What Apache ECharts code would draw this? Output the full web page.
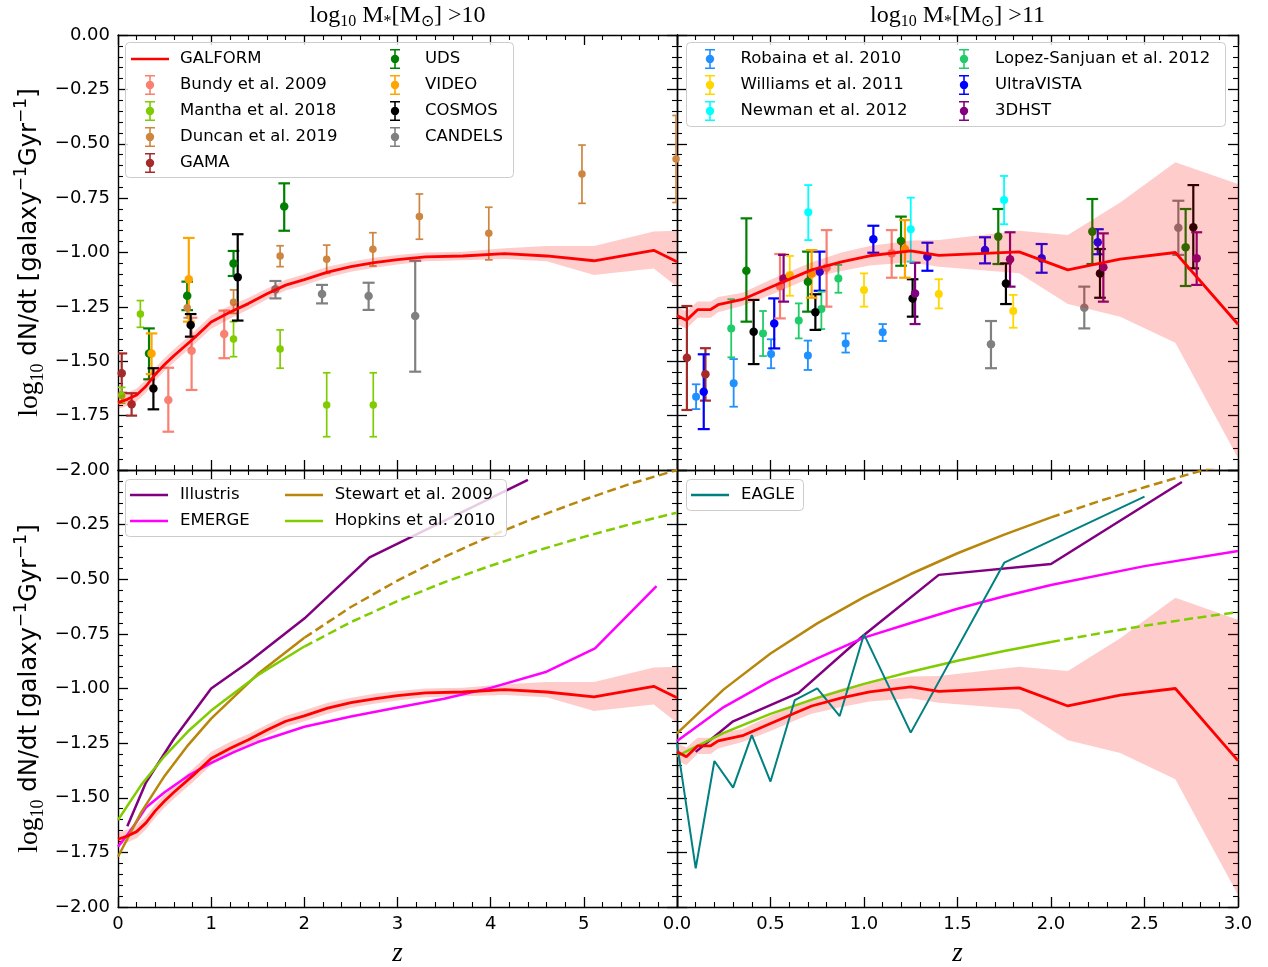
<!DOCTYPE html>
<html><head><meta charset="utf-8">
<script src="https://cdn.jsdelivr.net/npm/echarts@6/dist/echarts.min.js"></script>
<style>html,body{margin:0;padding:0;background:#fff}#c{width:1268px;height:967px}</style>
</head><body><div id="c"></div>
<script>
// ---------------- DATA ----------------
// GALFORM, log10 M* > 10
const galformZ10  = [0,0.1,0.2,0.3,0.4,0.5,0.6,0.8,1.0,1.2,1.4,1.6,1.8,2.0,2.25,2.5,2.75,3.0,3.3,3.7,4.15,4.6,5.11,5.75,6.0];
const galformY10  = [-1.69,-1.675,-1.655,-1.615,-1.56,-1.515,-1.475,-1.40,-1.32,-1.275,-1.235,-1.19,-1.15,-1.125,-1.09,-1.065,-1.047,-1.033,-1.02,-1.016,-1.005,-1.016,-1.038,-0.99,-1.042];
const galformLo10 = [-1.72,-1.705,-1.685,-1.645,-1.59,-1.545,-1.505,-1.43,-1.35,-1.305,-1.262,-1.215,-1.175,-1.15,-1.115,-1.088,-1.07,-1.055,-1.04,-1.036,-1.03,-1.04,-1.103,-1.073,-1.157];
const galformHi10 = [-1.66,-1.645,-1.625,-1.585,-1.53,-1.485,-1.445,-1.37,-1.29,-1.245,-1.208,-1.165,-1.125,-1.10,-1.065,-1.042,-1.024,-1.011,-1.0,-0.996,-0.98,-0.97,-0.97,-0.904,-0.90];
// GALFORM, log10 M* > 11
const galformZ11  = [0,0.05,0.11,0.18,0.22,0.35,0.5,0.65,0.72,0.88,1.03,1.25,1.40,1.83,2.09,2.37,2.665,3.0];
const galformY11  = [-1.29,-1.312,-1.263,-1.262,-1.24,-1.216,-1.16,-1.105,-1.08,-1.043,-1.015,-0.993,-1.013,-0.997,-1.08,-1.03,-1.0,-1.33];
const galformLo11 = [-1.33,-1.35,-1.30,-1.30,-1.275,-1.245,-1.195,-1.14,-1.115,-1.085,-1.06,-1.045,-1.065,-1.095,-1.237,-1.295,-1.415,-1.945];
const galformHi11 = [-1.25,-1.27,-1.225,-1.225,-1.205,-1.185,-1.125,-1.07,-1.045,-1.0,-0.97,-0.945,-0.943,-0.90,-0.92,-0.77,-0.585,-0.685];

// Observations [z, value, lower, upper], M* > 10
const bundy10   = [[0.54,-1.678,-1.824,-1.530],[0.79,-1.452,-1.632,-1.30],[1.14,-1.375,-1.486,-1.267]];
const mantha10  = [[0.04,-1.658,-1.693,-1.620],[0.24,-1.283,-1.344,-1.221],[1.24,-1.398,-1.479,-1.318],[1.74,-1.444,-1.532,-1.356],[2.24,-1.701,-1.847,-1.553],[2.74,-1.701,-1.847,-1.553]];
const duncan10  = [[0.743,-1.254,-1.30,-1.205],[1.24,-1.229,-1.28,-1.172],[1.74,-1.016,-1.065,-0.969],[2.24,-1.031,-1.096,-0.966],[2.736,-0.985,-1.062,-0.909],[3.235,-0.835,-0.939,-0.731],[3.98,-0.912,-1.034,-0.792],[4.98,-0.639,-0.774,-0.506],[5.99,-0.57,-0.77,-0.37]];
const gama10    = [[0.04,-1.555,-1.645,-1.464],[0.146,-1.698,-1.75,-1.647]];
const uds10     = [[0.333,-1.464,-1.583,-1.349],[0.743,-1.199,-1.265,-1.134],[1.24,-1.05,-1.108,-0.993],[1.784,-0.789,-0.90,-0.682]];
const video10   = [[0.36,-1.464,-1.559,-1.372],[0.76,-1.123,-1.318,-0.933]];
const cosmos10  = [[0.38,-1.625,-1.721,-1.532],[0.78,-1.333,-1.387,-1.283],[1.285,-1.114,-1.313,-0.916]];
const candels10 = [[1.69,-1.169,-1.211,-1.131],[2.19,-1.191,-1.234,-1.149],[2.69,-1.20,-1.264,-1.139],[3.19,-1.292,-1.548,-1.038]];

// Observations [z, value, lower, upper], M* > 11
const robaina11    = [[0.102,-1.663,-1.72,-1.606],[0.303,-1.601,-1.709,-1.49],[0.503,-1.467,-1.532,-1.399],[0.70,-1.474,-1.54,-1.405],[0.902,-1.418,-1.46,-1.372],[1.10,-1.367,-1.407,-1.329]];
const williams11   = [[0.603,-1.103,-1.199,-1.016],[1.0,-1.172,-1.249,-1.096],[1.40,-1.191,-1.257,-1.123],[1.798,-1.269,-1.346,-1.195]];
const newman11     = [[0.702,-0.815,-0.943,-0.69],[1.25,-0.893,-1.042,-0.748],[1.749,-0.759,-0.87,-0.648]];
const lopez11      = [[0.29,-1.349,-1.482,-1.215],[0.46,-1.372,-1.476,-1.269],[0.651,-1.313,-1.395,-1.234],[0.772,-1.26,-1.352,-1.18],[0.863,-1.119,-1.185,-1.057]];
const ultravista11 = [[0.143,-1.64,-1.812,-1.468],[0.52,-1.326,-1.441,-1.211],[0.763,-1.088,-1.176,-0.996],[1.05,-0.939,-1.001,-0.877],[1.339,-1.019,-1.084,-0.955],[1.647,-0.989,-1.05,-0.93],[1.95,-1.027,-1.093,-0.961],[2.25,-0.953,-1.008,-0.893]];
const dhst11       = [[0.57,-1.119,-1.226,-1.011],[1.273,-1.188,-1.329,-1.047],[1.781,-1.031,-1.157,-0.907],[2.28,-1.068,-1.226,-0.912],[2.779,-1.027,-1.149,-0.907]];
const gama11       = [[0.053,-1.484,-1.724,-1.246],[0.152,-1.56,-1.681,-1.44]];
const bundy11      = [[0.551,-1.155,-1.303,-1.007],[0.80,-1.07,-1.249,-0.897],[1.148,-1.004,-1.116,-0.897]];
const uds11        = [[0.371,-1.084,-1.318,-0.843],[0.70,-1.134,-1.272,-0.996],[1.198,-0.947,-1.061,-0.835],[1.718,-0.927,-1.053,-0.80],[2.221,-0.904,-1.053,-0.754],[2.72,-0.976,-1.154,-0.80]];
const video11      = [[0.72,-1.099,-1.208,-0.989],[1.219,-0.984,-1.116,-0.851]];
const cosmos11     = [[0.41,-1.364,-1.513,-1.218],[0.74,-1.275,-1.356,-1.192],[1.26,-1.211,-1.295,-1.123],[1.759,-1.142,-1.237,-1.05],[2.262,-1.096,-1.208,-0.984],[2.761,-0.884,-1.073,-0.69]];
const candels11    = [[1.679,-1.422,-1.532,-1.315],[2.178,-1.254,-1.349,-1.157],[2.681,-0.886,-1.011,-0.762]];

// Models, M* > 10
const illustrisZ10 = [0.1,0.3,0.6,1.0,1.4,2.0,2.7,4.4];
const illustrisY10 = [-1.63,-1.43,-1.23,-1.0,-0.88,-0.68,-0.40,-0.045];
const emergeZ10 = [0,0.1,0.2,0.3,0.5,0.75,1.0,1.25,1.5,2.0,2.5,3.0,3.5,4.0,4.6,5.12,5.78];
const emergeY10 = [-1.724,-1.67,-1.61,-1.545,-1.475,-1.40,-1.34,-1.29,-1.245,-1.175,-1.128,-1.087,-1.047,-0.997,-0.923,-0.816,-0.531];
const stewartZ10 = [0,0.25,0.5,0.75,1.0,1.5,2.0];
const stewartY10 = [-1.77,-1.566,-1.40,-1.26,-1.138,-0.934,-0.768];
const stewartExtZ10 = [2.0,2.5,3.0,3.5,4.0,4.5,5.0,5.5,6.0];
const stewartExtY10 = [-0.768,-0.627,-0.506,-0.398,-0.302,-0.215,-0.136,-0.063,0.0];
const hopkinsZ10 = [0,0.25,0.5,0.75,1.0,1.5,2.0];
const hopkinsY10 = [-1.602,-1.441,-1.309,-1.197,-1.101,-0.939,-0.808];
const hopkinsExtZ10 = [2.0,2.5,3.0,3.5,4.0,4.5,5.0,5.5,6.0];
const hopkinsExtY10 = [-0.808,-0.696,-0.60,-0.514,-0.438,-0.369,-0.306,-0.248,-0.195];

// Models, M* > 11
const illustrisZ11 = [0.1,0.3,0.65,1.0,1.4,2.0,2.7];
const illustrisY11 = [-1.29,-1.15,-1.02,-0.755,-0.48,-0.43,-0.055];
const emergeZ11 = [0,0.25,0.5,0.75,1.0,1.25,1.5,1.75,2.0,2.5,3.0];
const emergeY11 = [-1.24,-1.085,-0.965,-0.862,-0.767,-0.70,-0.635,-0.578,-0.526,-0.44,-0.371];
const stewartZ11 = [0,0.25,0.5,0.75,1.0,1.25,1.5,1.75,2.0];
const stewartY11 = [-1.205,-1.004,-0.84,-0.702,-0.582,-0.476,-0.381,-0.296,-0.217];
const stewartExtZ11 = [2.0,2.25,2.5,2.75,3.0];
const stewartExtY11 = [-0.217,-0.145,-0.079,-0.016,0.041];
const hopkinsZ11 = [0,0.25,0.5,0.75,1.0,1.25,1.5,1.75,2.0];
const hopkinsY11 = [-1.309,-1.203,-1.116,-1.043,-0.979,-0.923,-0.873,-0.828,-0.787];
const hopkinsExtZ11 = [2.0,2.25,2.5,2.75,3.0];
const hopkinsExtY11 = [-0.787,-0.749,-0.713,-0.680,-0.650];
const eagleZ11 = [0,0.1,0.2,0.3,0.4,0.5,0.63,0.75,0.87,1.0,1.25,1.75,2.5];
const eagleY11 = [-1.25,-1.823,-1.332,-1.454,-1.213,-1.426,-1.053,-0.999,-1.126,-0.752,-1.202,-0.424,-0.122];

// Axis ranges / ticks
const yRange = [-2, 0], yStep = 0.25;
const zRangeLeft = [0, 6], zStepLeft = 1;
const zRangeRight = [0, 3], zStepRight = 0.5;

// ---------------- STYLE ----------------
const FONT = 'DejaVu Sans';
const SERIF = 'Liberation Serif';
const C = {
  galform:'#ff0000', band:'rgba(255,0,0,0.2)',
  bundy:'#fa8072', mantha:'#80cc00', duncan:'#cd853f', gama:'#a52a2a',
  uds:'#008000', video:'#ffa500', cosmos:'#000000', candels:'#808080',
  robaina:'#1e90ff', williams:'#ffd700', newman:'#00ffff', lopez:'#20cc6a',
  ultravista:'#0000ff', dhst:'#800080',
  illustris:'#800080', emerge:'#ff00ff', stewart:'#b8860b', hopkins:'#80cc00', eagle:'#008080'
};
const EB = { // cap half-width, line width, marker size
  bundy:[5.8,2.2,8.5], mantha:[3.8,1.7,7.5], duncan:[3.8,1.7,7.5], gama:[5.5,2.2,8.5],
  uds:[5.8,2.2,8.5], video:[5.8,2.2,8.5], cosmos:[5.8,2.2,8.5], candels:[6,2.2,8.5],
  robaina:[4.2,1.8,8], williams:[4.2,1.8,8], newman:[4,1.8,8], lopez:[3.8,1.8,8],
  ultravista:[6,2.2,8.5], dhst:[5.5,2.2,8.5]
};
const NAMES = {
  galform:'GALFORM', bundy:'Bundy et al. 2009', mantha:'Mantha et al. 2018', duncan:'Duncan et al. 2019',
  gama:'GAMA', uds:'UDS', video:'VIDEO', cosmos:'COSMOS', candels:'CANDELS',
  robaina:'Robaina et al. 2010', williams:'Williams et al. 2011', newman:'Newman et al. 2012',
  lopez:'Lopez-Sanjuan et al. 2012', ultravista:'UltraVISTA', dhst:'3DHST',
  illustris:'Illustris', emerge:'EMERGE', stewart:'Stewart et al. 2009', hopkins:'Hopkins et al. 2010', eagle:'EAGLE'
};

// ---------------- HELPERS ----------------
const zip = (a, b) => a.map((v, i) => [v, b[i]]);

function errSeries(key, data, gi) {
  const [cap, lw, ms] = EB[key];
  const color = C[key];
  return [{
    type:'custom', name:NAMES[key], xAxisIndex:gi, yAxisIndex:gi, data, clip:true, z:2, silent:true,
    itemStyle:{color}, encode:{x:0, y:[1,2,3]},
    renderItem:(params, api) => {
      const x = api.value(0);
      const a = api.coord([x, api.value(2)]), b = api.coord([x, api.value(3)]);
      const st = {stroke:color, lineWidth:lw};
      return {type:'group', children:[
        {type:'line', shape:{x1:a[0], y1:a[1], x2:b[0], y2:b[1]}, style:st},
        {type:'line', shape:{x1:a[0]-cap, y1:a[1], x2:a[0]+cap, y2:a[1]}, style:st},
        {type:'line', shape:{x1:b[0]-cap, y1:b[1], x2:b[0]+cap, y2:b[1]}, style:st}
      ]};
    }
  }, {
    type:'scatter', name:NAMES[key], xAxisIndex:gi, yAxisIndex:gi, z:2, silent:true,
    data:data.map(d => [d[0], d[1]]), symbol:'circle', symbolSize:ms,
    itemStyle:{color, opacity:1}
  }];
}
function bandSeries(zs, lo, hi, gi, z) {
  const rows = zs.map((v, i) => [v, lo[i], hi[i]]);
  return {
    type:'custom', name:'GALFORM range', xAxisIndex:gi, yAxisIndex:gi, data:rows, clip:true, z, silent:true,
    encode:{x:0, y:[1,2]},
    renderItem:(params, api) => {
      if (params.dataIndex !== 0) return null;
      const pts = [];
      rows.forEach(r => pts.push(api.coord([r[0], r[2]])));
      for (let i = rows.length - 1; i >= 0; i--) pts.push(api.coord([rows[i][0], rows[i][1]]));
      return {type:'polygon', shape:{points:pts}, style:{fill:C.band}};
    }
  };
}
function lineSeries(name, color, zs, ys, gi, z, width, dashed) {
  return {
    type:'line', name, xAxisIndex:gi, yAxisIndex:gi, data:zip(zs, ys), z, silent:true,
    symbol:'none', showSymbol:false, clip:true, color,
    lineStyle:{color, width, type: dashed ? [9,4.5] : 'solid'}
  };
}

const yFmt = v => (v < 0 ? '\u2212' : '') + Math.abs(v).toFixed(2);
const tickStyle = {color:'#000', width:1.3};
function mkAxis(gi, pos, range, step, showLabel, fmt, extra) {
  const ax = {
    type:'value', gridIndex:gi, position:pos, min:range[0], max:range[1], interval:step,
    axisLine:{show:true, onZero:false, lineStyle:{color:'#000', width:1.4}},
    axisTick:{show:true, inside:true, length:10, lineStyle:tickStyle},
    minorTick:{show:true, splitNumber:5, length:5, lineStyle:{color:'#000', width:1.1}},
    splitLine:{show:false}, minorSplitLine:{show:false},
    axisLabel:{show:showLabel, formatter:fmt, fontFamily:FONT, fontSize:18, color:'#000', margin:8},
    silent:true
  };
  return Object.assign(ax, extra || {});
}

const yName = '{l|log}{s|10}{t| dN/dt [galaxy}{p|\u22121}{t|Gyr}{p|\u22121}{t|]}';
const yNameStyle = {
  fontFamily:FONT, fontSize:24.3, color:'#000',
  rich:{
    l:{fontFamily:SERIF, fontSize:27.5, lineHeight:34, color:'#000'},
    s:{fontFamily:SERIF, fontSize:18, lineHeight:17, verticalAlign:'bottom', color:'#000'},
    t:{fontFamily:FONT, fontSize:24.3, lineHeight:34, color:'#000'},
    p:{fontFamily:FONT, fontSize:17, lineHeight:17, verticalAlign:'top', color:'#000'}
  }
};
const yNameOpts = () => ({name:yName, nameLocation:'middle', nameGap:71, nameRotate:90, nameTextStyle:yNameStyle});
const zNameOpts = () => ({name:'z', nameLocation:'middle', nameGap:33,
  nameTextStyle:{fontFamily:SERIF, fontStyle:'italic', fontSize:27, color:'#000'}});

const xAxes = [
  mkAxis(0, 'bottom', zRangeLeft, zStepLeft, false),
  mkAxis(1, 'bottom', zRangeRight, zStepRight, false),
  mkAxis(2, 'bottom', zRangeLeft, zStepLeft, true, v => String(Math.round(v)), zNameOpts()),
  mkAxis(3, 'bottom', zRangeRight, zStepRight, true, v => v.toFixed(1), zNameOpts()),
  mkAxis(0, 'top', zRangeLeft, zStepLeft, false),
  mkAxis(1, 'top', zRangeRight, zStepRight, false),
  mkAxis(2, 'top', zRangeLeft, zStepLeft, false),
  mkAxis(3, 'top', zRangeRight, zStepRight, false)
];
xAxes[2].axisLabel.showMaxLabel = false;
const yAxes = [
  mkAxis(0, 'left', yRange, yStep, true, yFmt, yNameOpts()),
  mkAxis(1, 'left', yRange, yStep, false),
  mkAxis(2, 'left', yRange, yStep, true, yFmt, yNameOpts()),
  mkAxis(3, 'left', yRange, yStep, false),
  mkAxis(0, 'right', yRange, yStep, false),
  mkAxis(1, 'right', yRange, yStep, false),
  mkAxis(2, 'right', yRange, yStep, false),
  mkAxis(3, 'right', yRange, yStep, false)
];
yAxes[2].axisLabel.showMaxLabel = false;

// ---------------- SERIES ----------------
const series = [];
[['gama',gama10],['mantha',mantha10],['bundy',bundy10],['duncan',duncan10],['uds',uds10],['video',video10],['cosmos',cosmos10],['candels',candels10]]
  .forEach(([k, d]) => series.push(...errSeries(k, d, 0)));
series.push(bandSeries(galformZ10, galformLo10, galformHi10, 0, 3));
series.push(lineSeries(NAMES.galform, C.galform, galformZ10, galformY10, 0, 4, 2.8));

[['gama',gama11],['robaina',robaina11],['ultravista',ultravista11],['lopez',lopez11],['bundy',bundy11],['uds',uds11],['cosmos',cosmos11],['dhst',dhst11],['williams',williams11],['video',video11],['newman',newman11],['candels',candels11]]
  .forEach(([k, d]) => series.push(...errSeries(k, d, 1)));
series.push(bandSeries(galformZ11, galformLo11, galformHi11, 1, 3));
series.push(lineSeries(NAMES.galform, C.galform, galformZ11, galformY11, 1, 4, 2.8));

series.push(bandSeries(galformZ10, galformLo10, galformHi10, 2, 2));
series.push(lineSeries(NAMES.illustris, C.illustris, illustrisZ10, illustrisY10, 2, 3, 2.5));
series.push(lineSeries(NAMES.emerge, C.emerge, emergeZ10, emergeY10, 2, 3, 2.5));
series.push(lineSeries(NAMES.stewart, C.stewart, stewartZ10, stewartY10, 2, 3, 2.5));
series.push(lineSeries(NAMES.stewart + ' (extrapolated)', C.stewart, stewartExtZ10, stewartExtY10, 2, 3, 2.5, true));
series.push(lineSeries(NAMES.hopkins, C.hopkins, hopkinsZ10, hopkinsY10, 2, 3, 2.5));
series.push(lineSeries(NAMES.hopkins + ' (extrapolated)', C.hopkins, hopkinsExtZ10, hopkinsExtY10, 2, 3, 2.5, true));
series.push(lineSeries(NAMES.galform, C.galform, galformZ10, galformY10, 2, 4, 2.8));

series.push(bandSeries(galformZ11, galformLo11, galformHi11, 3, 2));
series.push(lineSeries(NAMES.stewart, C.stewart, stewartZ11, stewartY11, 3, 3, 2.5));
series.push(lineSeries(NAMES.stewart + ' (extrapolated)', C.stewart, stewartExtZ11, stewartExtY11, 3, 3, 2.5, true));
series.push(lineSeries(NAMES.illustris, C.illustris, illustrisZ11, illustrisY11, 3, 3, 2.5));
series.push(lineSeries(NAMES.emerge, C.emerge, emergeZ11, emergeY11, 3, 3, 2.5));
series.push(lineSeries(NAMES.hopkins, C.hopkins, hopkinsZ11, hopkinsY11, 3, 3, 2.5));
series.push(lineSeries(NAMES.hopkins + ' (extrapolated)', C.hopkins, hopkinsExtZ11, hopkinsExtY11, 3, 3, 2.5, true));
series.push(lineSeries(NAMES.eagle, C.eagle, eagleZ11, eagleY11, 3, 4, 2));
series.push(lineSeries(NAMES.galform, C.galform, galformZ11, galformY11, 3, 4, 2.8));

// ---------------- LEGENDS (one component per column) ----------------
const errIcon = 'path://M0,0H10V1.6H0Z M0,18.4H10V20H0Z M4.2,0H5.8V20H4.2Z M9.2,10A4.2,4.2,0,1,1,0.8,10A4.2,4.2,0,1,1,9.2,10Z';
const lineIcon = 'path://M0,0H38V2.6H0Z';
function li(key, isLine, tpad) {
  return {name:NAMES[key], icon:isLine ? lineIcon : errIcon, itemStyle:{color:C[key], borderWidth:0},
    textStyle:{padding:[0,0,0,tpad], fontFamily:FONT, fontSize:16.5, lineHeight:20, color:'#000'}};
}
function legCol(left, top, items) {
  return {orient:'vertical', left, top, padding:0, itemWidth:38, itemHeight:20, itemGap:6, selectedMode:false,
    textStyle:{fontFamily:FONT, fontSize:16.5, lineHeight:20, color:'#000'}, z:10, data:items};
}
// columns made only of error-bar icons are laid out from the icon's own left edge (14 px inside the 38 px slot)
const legends = [
  legCol(131, 49, [li('galform',true,6), li('bundy',false,6), li('mantha',false,6), li('duncan',false,6), li('gama',false,6)]),
  legCol(390, 49, [li('uds',false,6), li('video',false,6), li('cosmos',false,6), li('candels',false,6)]),
  legCol(705, 49, [li('robaina',false,6.5), li('williams',false,6.5), li('newman',false,6.5)]),
  legCol(959, 49, [li('lopez',false,7), li('ultravista',false,7), li('dhst',false,7)]),
  legCol(130, 485, [li('illustris',true,7), li('emerge',true,7)]),
  legCol(285, 485, [li('stewart',true,6.7), li('hopkins',true,6.7)]),
  legCol(691, 485, [li('eagle',true,7)])
];
const legendBoxes = [[125,42,388,135],[686,42,539,84],[125,479,381,57],[686,479,117,31]];
const boxEls = legendBoxes.map(b => ({type:'rect', z:9, silent:true,
  shape:{x:b[0]+0.5, y:b[1]+0.5, width:b[2], height:b[3], r:4},
  style:{fill:'rgba(255,255,255,0.8)', stroke:'#cccccc', lineWidth:1}}));

// ---------------- TITLES ----------------
const titleRich = {
  r:{fontFamily:SERIF, fontSize:24, lineHeight:28, fill:'#000', color:'#000'},
  s:{fontFamily:SERIF, fontSize:16, lineHeight:14, verticalAlign:'bottom', fill:'#000', color:'#000'}
};
function titleEl(x, thr) {
  const t = '{r|log}{s|10}{r| M}{s|*}{r|[M}{s|\u2299}{r|] >' + thr + '}';
  return {type:'text', x, y:16, z:20, silent:true,
    style:{text:t, rich:titleRich, align:'center', textAlign:'center', verticalAlign:'middle', textVerticalAlign:'middle',
      fontFamily:SERIF, fontSize:24, fill:'#000'}};
}

const grid = [
  {left:118, top:35, width:559, height:435},
  {left:677, top:35, width:561, height:435},
  {left:118, top:470, width:559, height:437},
  {left:677, top:470, width:561, height:437}
].map(g => Object.assign(g, {containLabel:false, outerBoundsMode:'none', show:false}));

const chart = echarts.init(document.getElementById('c'), null, {renderer:'canvas'});
chart.setOption({
  animation:false,
  backgroundColor:'#ffffff',
  grid, xAxis:xAxes, yAxis:yAxes, series, legend:legends,
  graphic:[...boxEls, titleEl(397.5, 10), titleEl(957.5, 11)]
});
</script></body></html>
